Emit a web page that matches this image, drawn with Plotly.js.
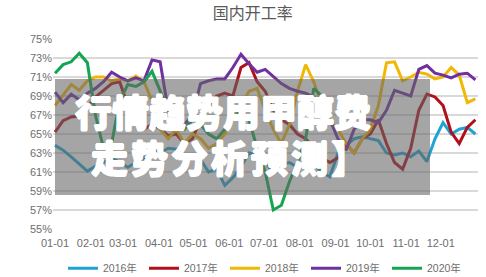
<!DOCTYPE html>
<html><head><meta charset="utf-8">
<script src="https://cdn.plot.ly/plotly-3.0.1.min.js"></script>
<style>
html,body{margin:0;padding:0;background:#fff;}
#wrap{position:relative;width:486px;height:277px;overflow:hidden;}
#chart{width:486px;height:277px;}
#ov{position:absolute;left:55px;top:79px;width:375px;height:116px;background:rgba(100,100,100,0.58);pointer-events:none;}
.t{position:absolute;color:#fff;font-family:"Noto Sans CJK SC","Noto Sans",sans-serif;font-weight:900;font-size:37px;line-height:37px;white-space:nowrap;
 text-shadow:0.7px 0 0 #fff,-0.7px 0 0 #fff,0 0.7px 0 #fff,0 -0.7px 0 #fff;}
</style></head><body>
<div id="wrap"><div id="chart"></div><div id="ov"></div>
<div class="t" id="t1" style="left:75px;top:93px;">行情趋势用甲醇费</div>
<div class="t" id="t2" style="left:91px;top:139px;letter-spacing:3px;">走势分析预测】</div>
</div>
<script>
const startDate = '2019-01-01';
const seriesNames = ['2016年','2017年','2018年','2019年','2020年'];
const s2016 = [63.8,63.3,62.6,61.9,61.1,61.6,62.0,62.5,62.0,61.5,62.0,62.5,63.5,63.0,63.5,63.4,62.5,62.8,62.3,61.0,61.3,59.6,60.4,61.5,63.0,62.8,62.0,61.0,61.8,62.0,61.5,62.5,61.8,61.0,60.5,63.0,63.8,64.5,64.7,64.5,64.3,63.0,62.8,63.0,62.6,63.2,62.1,64.5,66.2,65.0,65.5,65.7,65.0];
const s2017 = [65.2,66.4,66.8,66.9,67.8,68.9,69.6,70.3,70.5,68.0,66.0,65.5,66.0,65.6,64.8,65.0,64.0,64.5,66.5,68.0,69.0,69.3,69.0,72.0,72.5,70.5,69.5,67.5,66.5,66.0,65.0,64.5,63.5,62.5,62.0,62.5,64.0,63.0,64.5,65.0,66.5,64.0,62.0,61.3,63.5,67.5,69.2,68.9,68.0,65.2,64.0,65.7,66.5];
const s2018 = [68.0,69.1,70.2,69.6,70.6,71.0,71.0,70.6,70.8,70.6,71.1,70.5,68.5,65.5,64.5,65.5,64.0,65.0,64.5,63.5,64.0,65.0,66.5,68.0,69.5,69.8,67.5,65.5,64.0,66.0,69.5,72.3,70.5,68.0,66.5,65.5,64.0,63.0,64.5,65.5,68.0,72.5,72.6,70.6,71.0,71.5,71.3,70.8,71.0,72.0,71.2,68.3,68.7];
const s2019 = [69.4,68.3,69.2,68.6,69.3,69.8,70.5,71.5,71.0,70.6,70.9,70.6,72.8,72.6,67.5,66.5,66.0,67.0,70.3,70.6,70.8,70.8,72.0,73.4,72.4,71.5,71.8,71.0,70.3,69.8,69.5,69.3,68.9,68.0,66.5,64.5,63.3,65.5,66.5,66.5,66.2,67.5,69.6,69.3,69.0,71.8,72.2,71.4,71.2,70.9,71.3,71.4,70.7];
const s2020 = [71.4,72.3,72.6,73.5,72.5,67.0,63.5,64.0,68.5,70.2,70.0,70.5,71.6,69.5,67.5,66.0,65.5,66.5,66.0,65.0,64.5,65.5,66.5,67.5,66.5,63.5,61.0,57.0,57.5,60.0,62.0,64.5,69.8,69.0];
const colors = ['#1ea3d2','#b0101c','#f2b705','#7030a0','#14a550'];
const yTickVals = [55,57,59,61,63,65,67,69,71,73,75];
const yTickText = ['55%','57%','59%','61%','63%','65%','67%','69%','71%','73%','75%'];

function weekDates(n){
  const out=[]; const d0=new Date(startDate+'T00:00:00Z');
  for(let i=0;i<n;i++){const d=new Date(d0.getTime()+i*7*86400000);out.push(d.toISOString().slice(0,10));}
  return out;
}
const all=[s2016,s2017,s2018,s2019,s2020];
const traces = all.map((s,k)=>({
  type:'scatter',mode:'lines',name:seriesNames[k],x:weekDates(s.length),y:s,
  line:{color:colors[k],width:3},hoverinfo:'skip'
}));
const layout={
  width:486,height:277,margin:{l:53,r:8,t:39,b:48},
  paper_bgcolor:'#fff',plot_bgcolor:'#fff',
  title:{text:'国内开工率',x:0.52,xanchor:'center',y:0.95,yref:'container',yanchor:'middle',
    font:{family:'"Noto Sans CJK SC", sans-serif',size:16,color:'#595959'}},
  xaxis:{type:'date',range:['2018-12-30 06:00','2020-01-02 06:00'],tickformat:'%m-%d',dtick:'M1',tick0:'2019-01-01',
    showgrid:false,zeroline:false,showline:false,ticks:'',ticklabelstandoff:6,
    tickfont:{family:'"Liberation Sans", Arial, sans-serif',size:11,color:'#6e6e6e'}},
  yaxis:{range:[55,75],tickvals:yTickVals,ticktext:yTickText,showgrid:true,gridcolor:'#d9d9d9',gridwidth:1.5,
    zeroline:false,showline:false,ticks:'',tickfont:{family:'"Liberation Sans", Arial, sans-serif',size:11,color:'#6e6e6e'}},
  showlegend:true,
  legend:{orientation:'h',x:0.5,xanchor:'center',y:0.032,yref:'container',yanchor:'middle',
    entrywidth:36,entrywidthmode:'pixels',
    font:{family:'"Liberation Sans","Noto Sans CJK SC", sans-serif',size:10.5,color:'#6e6e6e'},itemwidth:30,tracegroupgap:0}
};
Plotly.newPlot('chart',traces,layout,{displayModeBar:false,staticPlot:true});
</script>
</body></html>
